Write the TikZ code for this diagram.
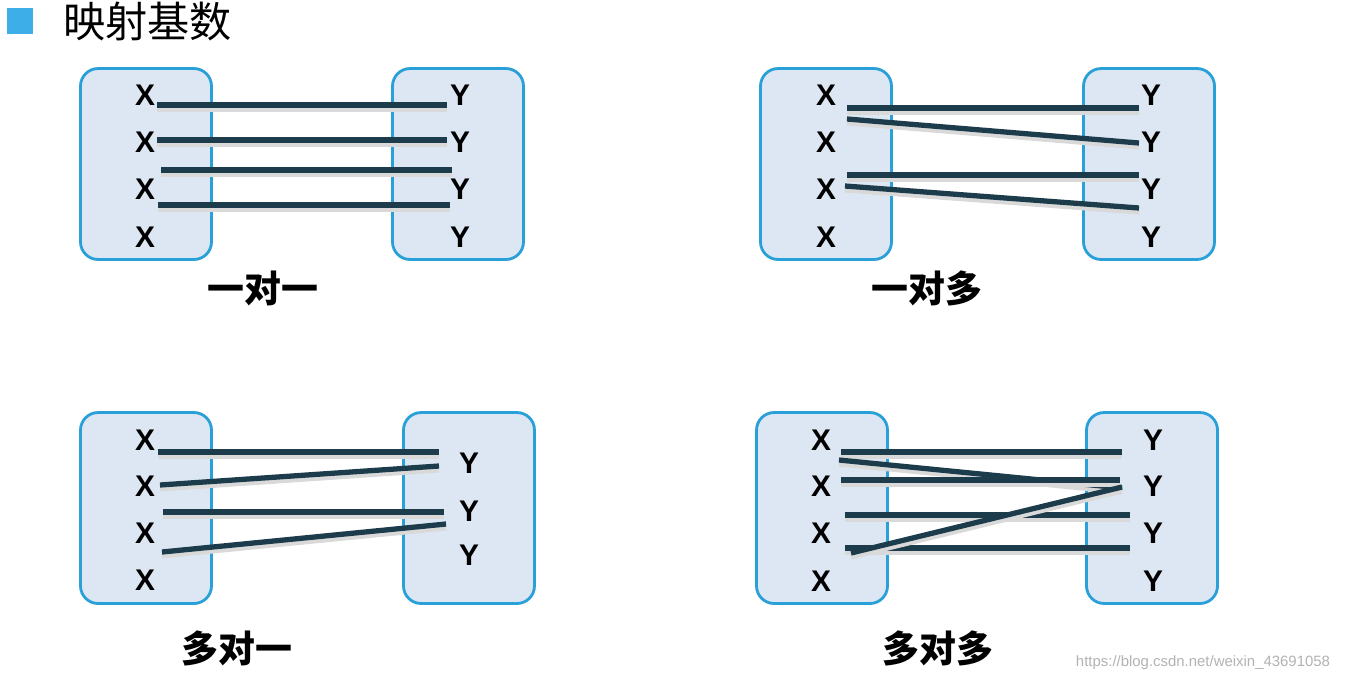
\documentclass[tikz,border=0pt]{standalone}
\usepackage{fontspec}
\setmainfont{Liberation Sans}
\newfontfamily\cjk{Noto Sans CJK SC}
\usetikzlibrary{positioning}
\definecolor{setblue}{RGB}{41,160,216}
\definecolor{setfill}{RGB}{221,231,243}
\definecolor{linkcol}{RGB}{28,60,76}
\definecolor{markblue}{RGB}{62,174,233}

\begin{document}
\begin{tikzpicture}[x=0.02cm,y=-0.02cm,
  setbox/.style={draw=setblue, fill=setfill, line width=1.6pt, rounded corners=10pt, minimum width=2.62cm, minimum height=3.82cm},
  elem/.style={font=\fontsize{17}{18}\selectfont\bfseries, inner sep=0pt},
  link/.style={draw=linkcol, line width=3pt, preaction={draw=black!15, line width=3.4pt, transform canvas={yshift=-2pt}}},
  caption/.style={font=\cjk\bfseries\fontsize{21}{22}\selectfont, inner sep=0pt}]
  \useasboundingbox (0,0) rectangle (1349,681);

  % title
  \node[fill=markblue, minimum size=0.52cm, inner sep=0pt] (mark) at (20,21) {};
  \node[font=\cjk\fontsize{24}{26}\selectfont, anchor=west, inner sep=0pt] (title) at (63,22) {映射基数};

  % one to one
  \node[setbox] (L1) at (146,164) {};
  \node[setbox] (R1) at (458,164) {};
  \foreach \i/\y in {1/95,2/142,3/189,4/237} {
    \node[elem] (x1\i) at (145,\y) {X};
    \node[elem] (y1\i) at (460,\y) {Y};
  }
  \foreach \n/\xa/\ya/\xb/\yb in {1/157/105/447/105, 2/157/140/447/140, 3/161/170/452/170, 4/158/205/450/205} {
    \coordinate (s1\n) at (\xa,\ya);
    \coordinate (t1\n) at (\xb,\yb);
    \draw[link] (s1\n) -- (t1\n);
  }
  \node[caption] (c1) at (263,288) {一对一};

  % one to many
  \node[setbox] (L2) at (826,164) {};
  \node[setbox] (R2) at (1149,164) {};
  \foreach \i/\y in {1/95,2/142,3/189,4/237} {
    \node[elem] (x2\i) at (826,\y) {X};
    \node[elem] (y2\i) at (1151,\y) {Y};
  }
  \foreach \n/\xa/\ya/\xb/\yb in {1/847/108/1139/108, 2/847/119/1139/143, 3/847/175/1139/175, 4/845/186/1139/208} {
    \coordinate (s2\n) at (\xa,\ya);
    \coordinate (t2\n) at (\xb,\yb);
    \draw[link] (s2\n) -- (t2\n);
  }
  \node[caption] (c2) at (927,288) {一对多};

  % many to one
  \node[setbox] (L3) at (146,508) {};
  \node[setbox] (R3) at (469,508) {};
  \foreach \i/\y in {1/440,2/486,3/533,4/580} {
    \node[elem] (x3\i) at (145,\y) {X};
  }
  \foreach \i/\y in {1/463,2/511,3/555} {
    \node[elem] (y3\i) at (469,\y) {Y};
  }
  \foreach \n/\xa/\ya/\xb/\yb in {1/158/452/439/452, 2/160/485/439/466, 3/163/512/444/512, 4/162/552/446/524} {
    \coordinate (s3\n) at (\xa,\ya);
    \coordinate (t3\n) at (\xb,\yb);
    \draw[link] (s3\n) -- (t3\n);
  }
  \node[caption] (c3) at (237,648) {多对一};

  % many to many
  \node[setbox] (L4) at (822,508) {};
  \node[setbox] (R4) at (1152,508) {};
  \foreach \i/\y in {1/440,2/486,3/533,4/581} {
    \node[elem] (x4\i) at (821,\y) {X};
    \node[elem] (y4\i) at (1153,\y) {Y};
  }
  \foreach \n/\xa/\ya/\xb/\yb in {1/841/452/1122/452, 2/839/460/1122/488, 3/841/480/1120/480, 4/845/515/1130/515, 5/845/548/1130/548, 6/851/553/1122/487} {
    \coordinate (s4\n) at (\xa,\ya);
    \coordinate (t4\n) at (\xb,\yb);
    \draw[link] (s4\n) -- (t4\n);
  }
  \node[caption] (c4) at (938,648) {多对多};

  % watermark
  \node[font=\fontsize{8.5}{9}\selectfont, text=black!30, inner sep=0pt] (wm) at (1203,663) {https://blog.csdn.net/weixin\_43691058};
\end{tikzpicture}
\end{document}
